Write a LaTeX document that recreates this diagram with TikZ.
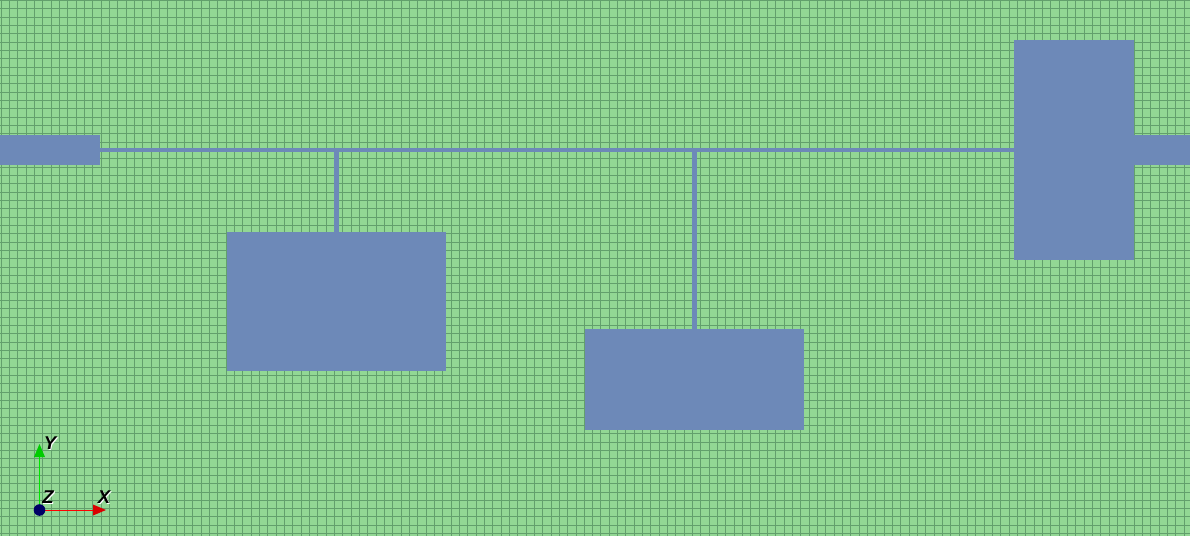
\documentclass[tikz,border=0pt]{standalone}
\usepackage{fontspec}
\setsansfont{Liberation Sans}
\definecolor{meshbg}{HTML}{92D794}
\definecolor{meshline}{HTML}{629F6C}
\definecolor{metal}{HTML}{6D89B8}
\tikzset{
  meshrule/.style={meshline,line width=0.55pt},
  metalfill/.style={fill=metal,draw=none},
  axislabel/.style={font=\sffamily\bfseries\itshape\fontsize{18.5}{19}\selectfont,inner sep=0pt}
}
\begin{document}
\begin{tikzpicture}[x=1pt,y=-1pt]
  \useasboundingbox (0, 0) rectangle (1190, 536);
  \fill[meshbg] (0, 0) rectangle (1190, 536);

  \foreach \i in {0,...,143} {
    \draw[meshrule] ({1+8.33*\i}, 0) -- ({1+8.33*\i}, 536);
  }
  \foreach \i in {0,...,64} {
    \draw[meshrule] (0, {0.3+8.33*\i}) -- (1190, {0.3+8.33*\i});
  }

  \fill[metalfill] (0, 135) rectangle (100, 165);
  \fill[metalfill] (100, 147.7) rectangle (1014, 152.2);
  \fill[metalfill] (1014, 40) rectangle (1134, 260);
  \fill[metalfill] (1134, 135) rectangle (1190, 165);
  \fill[metalfill] (334, 152) rectangle (339, 232);
  \fill[metalfill] (227, 232) rectangle (446, 371);
  \fill[metalfill] (692, 152) rectangle (697, 329);
  \fill[metalfill] (585, 329) rectangle (804, 430);

  \coordinate (origin) at (39.5, 510);
  \coordinate (xend) at (93, 510);
  \coordinate (yend) at (39.5, 457);
  \draw[red,line width=0.8pt] (origin) -- (xend);
  \draw[green!90!black,line width=0.8pt] (origin) -- (yend);
  \fill[red!85!black] (xend) ++(0, -5.5) -- ++(13, 5.5) -- ++(-13, 5.5) -- cycle;
  \fill[green!80!black] (yend) ++(-5.5, 0) -- ++(5.5, -13) -- ++(5.5, 13) -- cycle;
  \fill[blue!40!black] (origin) circle (5.8);

  % labels, each with a white copy behind it
  \node[axislabel,white] at (105, 498.5) {X};
  \node[axislabel] (xlabel) at (104, 497.5) {X};
  \node[axislabel,white] at (51, 444.5) {Y};
  \node[axislabel] (ylabel) at (50, 443.5) {Y};
  \node[axislabel,white] at (49, 498.5) {Z};
  \node[axislabel] (zlabel) at (48, 497.5) {Z};
\end{tikzpicture}
\end{document}
